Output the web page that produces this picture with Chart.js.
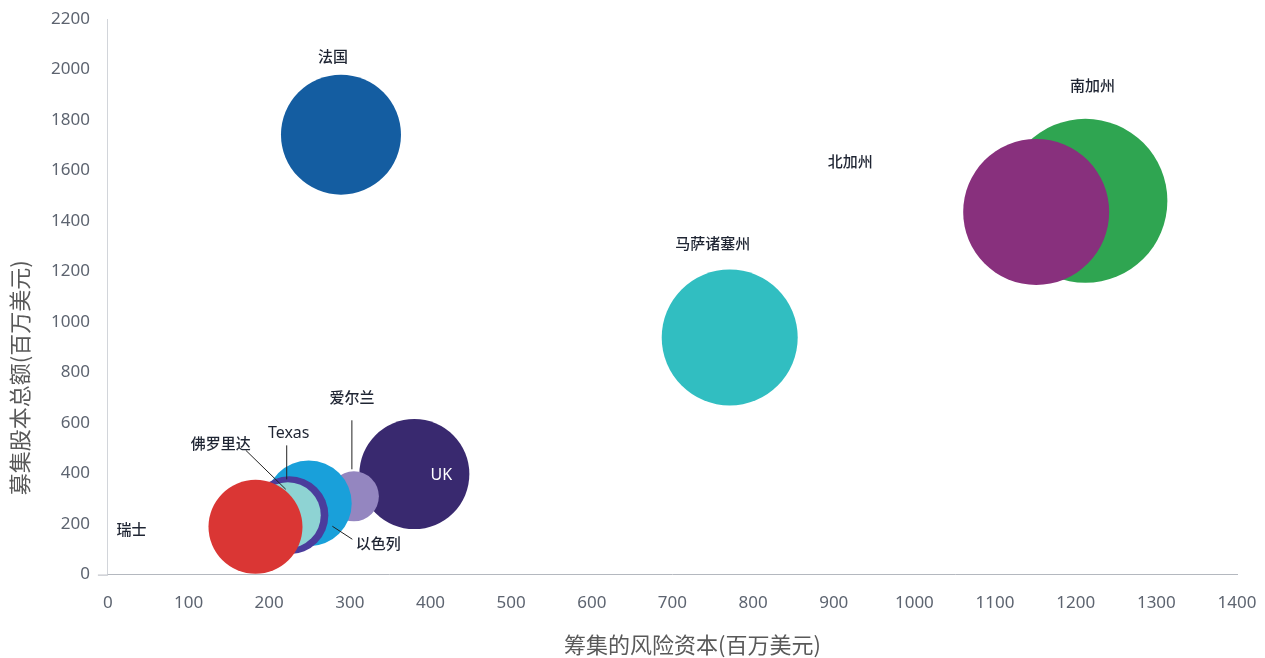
<!DOCTYPE html>
<html>
<head>
<meta charset="utf-8">
<script src="https://cdn.jsdelivr.net/npm/chart.js@4/dist/chart.umd.min.js"></script>
<style>
  body { margin: 0; background: #fff; }
  #wrap { width: 1265px; height: 658px; position: relative; }
</style>
</head>
<body>
<div id="wrap"><canvas id="chart"></canvas></div>
<script>
const regions = ["南加州", "北加州", "马萨诸塞州", "法国", "UK", "爱尔兰", "Texas", "以色列", "佛罗里达", "瑞士"];
const ventureCapital = [1212, 1151, 771, 289, 380, 305, 249, 225, 223, 183];
const equityRaised = [1480, 1436, 939, 1742, 398, 310, 282, 235, 235, 189];
const bubbleSize = [82, 73, 68, 60, 55, 25, 43, 39, 33, 47];
const xTicks = [0, 100, 200, 300, 400, 500, 600, 700, 800, 900, 1000, 1100, 1200, 1300, 1400];
const yTicks = [0, 200, 400, 600, 800, 1000, 1200, 1400, 1600, 1800, 2000, 2200];
const xTitle = "筹集的风险资本(百万美元)";
const yTitle = "募集股本总额(百万美元)";

const colors = ["#2fa551", "#88307d", "#31bec1", "#145da1", "#39296f", "#9486c0", "#19a0da", "#4b3c9c", "#8ed3d3", "#da3634"];

// label offsets from bubble centre (px), optional leader line
const labelPos = {
  "南加州": { dx: 7, dy: -116 },
  "北加州": { dx: -186, dy: -51 },
  "马萨诸塞州": { dx: -17, dy: -94 },
  "法国": { dx: -8, dy: -78 },
  "UK": { dx: 27, dy: 1, color: "#ffffff", font: "16px 'Noto Sans', sans-serif" },
  "爱尔兰": { dx: -2, dy: -99, line: [-2, -76, -2, -27] },
  "Texas": { dx: -20, dy: -70, font: "16px 'Noto Sans', sans-serif", line: [-22, -58, -22, -24] },
  "以色列": { dx: 89, dy: 28, line: [43, 11, 63, 24] },
  "佛罗里达": { dx: -67, dy: -72, line: [-42, -65, -2, -26] },
  "瑞士": { dx: -124, dy: 2 },
};

const points = regions.map((name, i) => ({
  x: ventureCapital[i],
  y: equityRaised[i],
  r: bubbleSize[i],
}));

const labelPlugin = {
  id: "bubbleLabels",
  afterDatasetsDraw(chart) {
    const ctx = chart.ctx;
    const meta = chart.getDatasetMeta(0);
    const area = chart.chartArea;
    ctx.save();

    // x axis line runs a little past the y axis, like a tick at 0
    ctx.strokeStyle = "#b4b8bf";
    ctx.lineWidth = 1;
    ctx.beginPath();
    ctx.moveTo(area.left - 10, area.bottom + 0.5);
    ctx.lineTo(area.left, area.bottom + 0.5);
    ctx.stroke();

    meta.data.forEach((el, i) => {
      const p = labelPos[regions[i]];
      if (!p) return;
      if (p.line) {
        ctx.strokeStyle = "#222";
        ctx.lineWidth = 1;
        ctx.beginPath();
        ctx.moveTo(el.x + p.line[0], el.y + p.line[1]);
        ctx.lineTo(el.x + p.line[2], el.y + p.line[3]);
        ctx.stroke();
      }
      ctx.fillStyle = p.color || "#1f2533";
      ctx.font = p.font || "500 15px 'Noto Sans CJK SC', sans-serif";
      ctx.textAlign = "center";
      ctx.textBaseline = "middle";
      ctx.fillText(regions[i], el.x + p.dx, el.y + p.dy);
    });

    // axis titles (sit a little off-centre in the original)
    ctx.fillStyle = "#595959";
    ctx.font = "22px 'Noto Sans CJK SC', sans-serif";
    ctx.fillText(xTitle, (area.left + area.right) / 2 + 20, 645);
    ctx.translate(20, (area.top + area.bottom) / 2 + 81);
    ctx.rotate(-Math.PI / 2);
    ctx.fillText(yTitle, 0, 0);
    ctx.restore();
  },
};

const tickFont = { family: "'Noto Sans', sans-serif", size: 17 };

new Chart(document.getElementById("chart"), {
  type: "bubble",
  data: {
    datasets: [
      {
        data: points,
        backgroundColor: colors,
        borderWidth: 0,
        hoverRadius: 0,
        hoverBorderWidth: 0,
        clip: false,
      },
    ],
  },
  options: {
    responsive: true,
    maintainAspectRatio: false,
    animation: false,
    layout: { autoPadding: false, padding: { top: 19, right: 28, left: 33, bottom: 27 } },
    scales: {
      x: {
        type: "linear",
        min: 0,
        max: 1400,
        afterBuildTicks: (axis) => { axis.ticks = xTicks.map((v) => ({ value: v })); },
        afterFit: (axis) => { axis.paddingLeft = 0; axis.paddingRight = 0; },
        grid: { display: false, drawTicks: false },
        border: { color: "#b4b8bf", width: 1 },
        ticks: { color: "#5d6470", padding: 18, font: tickFont, callback: (v) => String(v) },
      },
      y: {
        type: "linear",
        min: 0,
        max: 2200,
        afterBuildTicks: (axis) => { axis.ticks = yTicks.map((v) => ({ value: v })); },
        afterFit: (axis) => { axis.paddingTop = 0; axis.paddingBottom = 0; },
        grid: { display: false, drawTicks: false },
        border: { color: "#d2d5da", width: 1 },
        ticks: { color: "#5d6470", padding: 18, font: tickFont, callback: (v) => String(v) },
      },
    },
    plugins: {
      legend: { display: false },
      tooltip: { enabled: false },
    },
  },
  plugins: [labelPlugin],
});
</script>
</body>
</html>
